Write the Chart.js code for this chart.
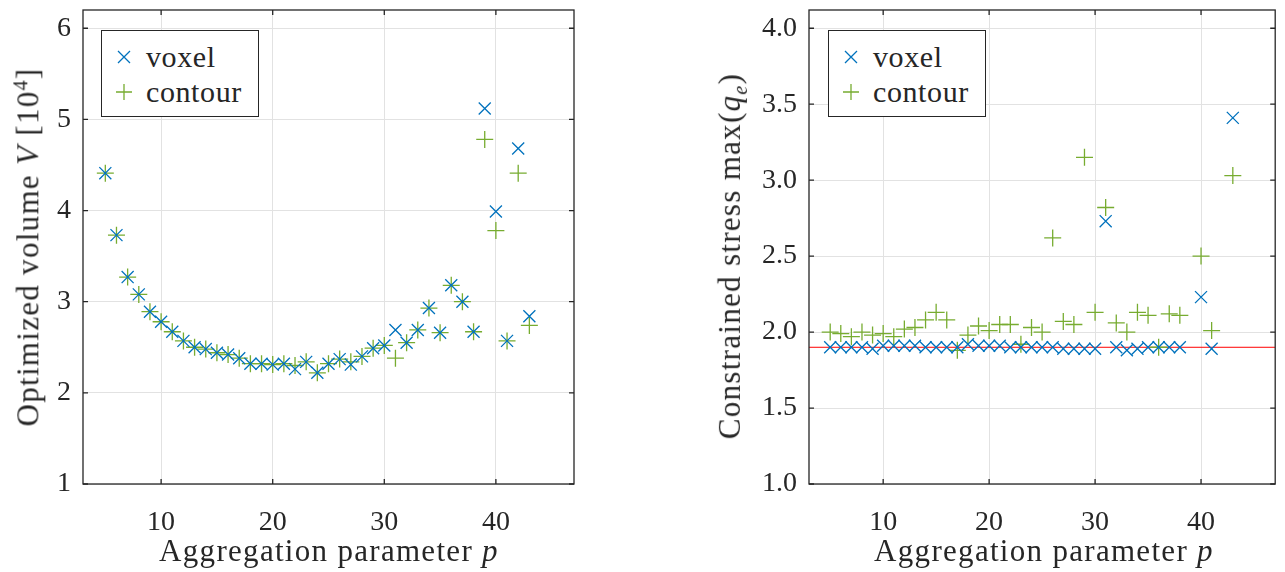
<!DOCTYPE html>
<html>
<head>
<meta charset="utf-8">
<script src="https://cdn.jsdelivr.net/npm/chart.js@4/dist/chart.umd.min.js"></script>
<style>
  html, body { margin: 0; padding: 0; background: #fff; }
  #wrap { position: relative; width: 1285px; height: 572px; font-family: "Liberation Serif", serif; color: #262626; }
  .pane { position: absolute; top: 0; height: 572px; }
  .title { position: absolute; font-size: 31px; letter-spacing: 1.3px; white-space: nowrap; line-height: 1; }
  .ytitle { transform: translate(-50%, -50%) rotate(-90deg); }
  .xtitle { transform: translate(-50%, -50%); }
  .legend { position: absolute; border: 1.3px solid #262626; background: #fff; box-sizing: border-box; font-size: 30px; letter-spacing: 0.6px; }
  .legend .row { position: absolute; left: 0; height: 34px; display: flex; align-items: center; }
  .legend svg { margin-left: 14px; margin-right: 14px; }
</style>
</head>
<body>
<div id="wrap">
  <div class="pane" style="left:0;width:640px;"><canvas id="chart-volume"></canvas></div>
  <div class="pane" style="left:640px;width:645px;"><canvas id="chart-stress"></canvas></div>

  <div class="title ytitle" style="left:27px;top:247px;">Optimized volume <i>V</i> [10<sup style="font-size:20px;">4</sup>]</div>
  <div class="title xtitle" style="left:329px;top:550px;">Aggregation parameter <i>p</i></div>
  <div class="title ytitle" style="left:732px;top:256px;">Constrained stress max(<i>q</i><sub style="font-size:20px;"><i>e</i></sub>)</div>
  <div class="title xtitle" style="left:1044px;top:550px;">Aggregation parameter <i>p</i></div>

  <div class="legend" style="left:101px;top:30px;width:158px;height:87px;">
    <div class="row" style="top:9px;"><svg width="16" height="16"><path d="M2 2L14 14M14 2L2 14" stroke="#0072BD" stroke-width="1.3"/></svg>voxel</div>
    <div class="row" style="top:44px;"><svg width="16" height="16"><path d="M8 0V16M0 8H16" stroke="#77AC30" stroke-width="1.3"/></svg>contour</div>
  </div>
  <div class="legend" style="left:828px;top:30px;width:158px;height:87px;">
    <div class="row" style="top:9px;"><svg width="16" height="16"><path d="M2 2L14 14M14 2L2 14" stroke="#0072BD" stroke-width="1.3"/></svg>voxel</div>
    <div class="row" style="top:44px;"><svg width="16" height="16"><path d="M8 0V16M0 8H16" stroke="#77AC30" stroke-width="1.3"/></svg>contour</div>
  </div>
</div>

<script>
// 집계 파라미터 p = 5..43
const pValues = [5,6,7,8,9,10,11,12,13,14,15,16,17,18,19,20,21,22,23,24,25,26,27,28,29,30,31,32,33,34,35,36,37,38,39,40,41,42,43];

// 최적화 체적 V [10^4]
const volumeVoxel = [4.41,3.73,3.27,3.08,2.89,2.78,2.67,2.57,2.50,2.48,2.44,2.42,2.38,2.32,2.32,2.31,2.32,2.26,2.34,2.22,2.32,2.37,2.31,2.40,2.49,2.52,2.69,2.55,2.69,2.93,2.66,3.18,3.00,2.67,5.12,3.99,2.57,4.68,2.84];
const volumeContour = [4.41,3.73,3.27,3.08,2.89,2.78,2.67,2.57,2.50,2.48,2.44,2.42,2.38,2.32,2.32,2.31,2.32,2.30,2.34,2.22,2.32,2.37,2.34,2.40,2.49,2.52,2.38,2.55,2.69,2.93,2.66,3.18,3.00,2.67,4.78,3.78,2.57,4.41,2.74];

// 제약 응력 max(q_e)
const stressVoxel = [1.90,1.90,1.90,1.90,1.89,1.91,1.91,1.91,1.91,1.90,1.90,1.90,1.90,1.92,1.91,1.91,1.91,1.90,1.90,1.90,1.90,1.90,1.89,1.89,1.89,1.89,2.73,1.90,1.88,1.89,1.90,1.90,1.90,1.90,null,2.23,1.89,null,3.41];
const stressContour = [2.00,1.99,1.97,2.00,1.98,1.99,1.97,2.02,2.03,2.08,2.13,2.08,1.88,1.98,2.04,2.01,2.05,2.05,1.92,2.03,2.00,2.62,2.07,2.05,3.15,2.13,2.82,2.06,2.00,2.13,2.11,1.90,2.12,2.11,null,2.50,2.01,null,3.03];
const stressLimit = 1.9;

// 축 눈금
const xTicks = [10, 20, 30, 40];
const volumeTicks = [1, 2, 3, 4, 5, 6];
const stressTicks = [1.0, 1.5, 2.0, 2.5, 3.0, 3.5, 4.0];

const BLUE = '#0072BD';
const GREEN = '#77AC30';
const AXIS = '#262626';
const GRID = '#e2e2e2';
const FONT = { family: '"Liberation Serif", serif', size: 28 };

const pairs = (ys) => pValues.map((p, i) => ({ x: p, y: ys[i] })).filter(d => d.y !== null);

// MATLAB 스타일 박스 + 안쪽 눈금
const boxPlugin = {
  id: 'box',
  afterDraw(chart) {
    const { ctx, chartArea: a, scales } = chart;
    ctx.save();
    ctx.strokeStyle = AXIS;
    ctx.lineWidth = 1.3;
    ctx.strokeRect(a.left, a.top, a.right - a.left, a.bottom - a.top);
    ctx.beginPath();
    scales.x.ticks.forEach(t => {
      const px = scales.x.getPixelForValue(t.value);
      ctx.moveTo(px, a.bottom); ctx.lineTo(px, a.bottom - 5);
      ctx.moveTo(px, a.top); ctx.lineTo(px, a.top + 5);
    });
    scales.y.ticks.forEach(t => {
      const py = scales.y.getPixelForValue(t.value);
      ctx.moveTo(a.left, py); ctx.lineTo(a.left + 5, py);
      ctx.moveTo(a.right, py); ctx.lineTo(a.right - 5, py);
    });
    ctx.stroke();
    ctx.restore();
  }
};

function makeChart(canvasId, cfg) {
  const datasets = [
    {
      label: 'voxel', data: pairs(cfg.voxel),
      pointStyle: 'crossRot', pointRadius: 8.5, pointBorderWidth: 1.3,
      borderColor: BLUE, backgroundColor: BLUE, showLine: false,
    },
    {
      label: 'contour', data: pairs(cfg.contour),
      pointStyle: 'cross', pointRadius: 8.5, pointBorderWidth: 1.3,
      borderColor: GREEN, backgroundColor: GREEN, showLine: false,
    },
  ];
  if (cfg.limit !== undefined) {
    datasets.push({
      type: 'line', label: 'limit',
      data: [{ x: cfg.xMin, y: cfg.limit }, { x: cfg.xMax, y: cfg.limit }],
      borderColor: '#ff0000', borderWidth: 1, pointRadius: 0, order: 5,
    });
  }

  return new Chart(document.getElementById(canvasId), {
    type: 'scatter',
    data: { datasets },
    options: {
      responsive: true,
      maintainAspectRatio: false,
      animation: false,
      layout: { padding: { top: 10, right: cfg.padRight, left: 0, bottom: 0 } },
      plugins: { legend: { display: false }, tooltip: { enabled: false } },
      scales: {
        x: {
          type: 'linear', min: cfg.xMin, max: cfg.xMax,
          afterBuildTicks: (s) => { s.ticks = xTicks.map(v => ({ value: v })); },
          afterFit: (s) => { s.height = 88; s.paddingLeft = 0; s.paddingRight = 0; },
          ticks: { color: AXIS, font: FONT, padding: 22, maxRotation: 0 },
          grid: { color: GRID, drawTicks: false },
          border: { display: false },
        },
        y: {
          type: 'linear', min: 1, max: cfg.yMax,
          afterBuildTicks: (s) => { s.ticks = cfg.yTicks.map(v => ({ value: v })); },
          afterFit: (s) => { s.width = cfg.yWidth; s.paddingTop = 0; s.paddingBottom = 0; },
          ticks: { color: AXIS, font: FONT, padding: 12, callback: cfg.yFormat },
          grid: { color: GRID, drawTicks: false },
          border: { display: false },
        },
      },
    },
    plugins: [boxPlugin],
  });
}

makeChart('chart-volume', {
  voxel: volumeVoxel, contour: volumeContour,
  xMin: 3, xMax: 47, yMax: 6.2, yTicks: volumeTicks,
  yWidth: 83, padRight: 66,
  yFormat: (v) => String(v),
});

makeChart('chart-stress', {
  voxel: stressVoxel, contour: stressContour, limit: stressLimit,
  xMin: 3, xMax: 47, yMax: 4.12, yTicks: stressTicks,
  yWidth: 169, padRight: 7,
  yFormat: (v) => Number(v).toFixed(1),
});
</script>
</body>
</html>
